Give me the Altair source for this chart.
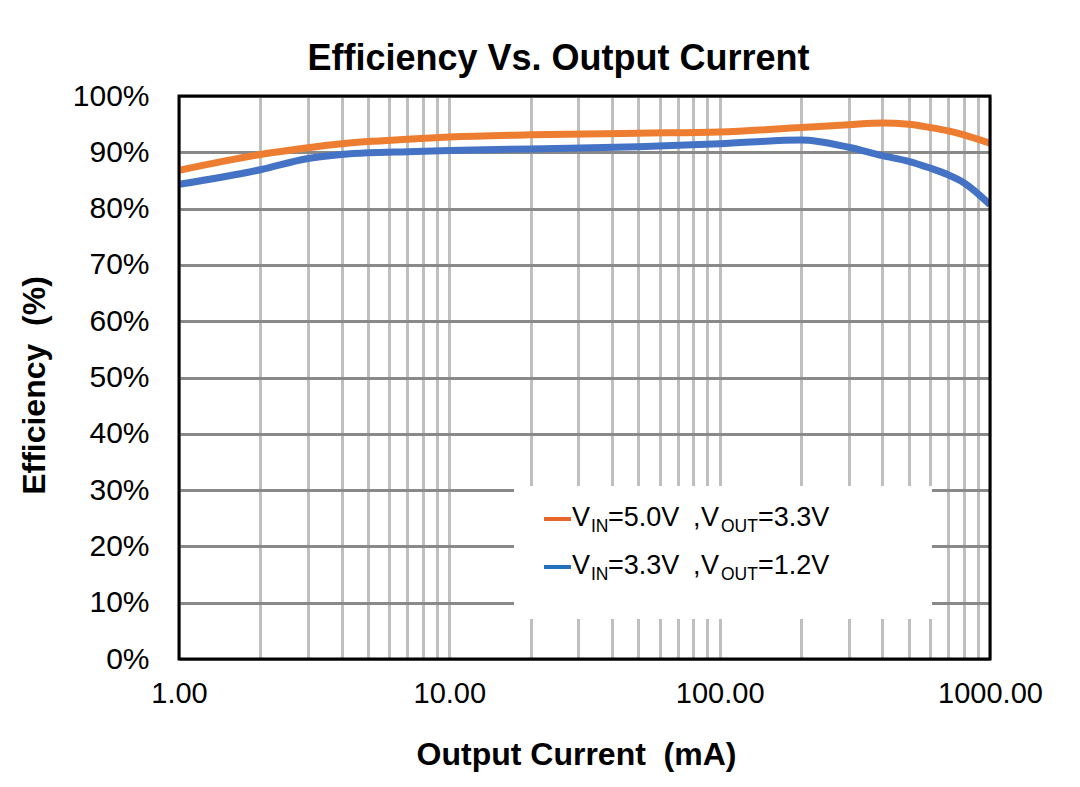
import altair as alt
import pandas as pd

current_ma = [1, 2, 3, 4, 5, 7, 10, 20, 50, 100, 200, 300, 400, 500, 600, 700, 800, 1000]
eff_5v_3v3 = [86.8, 89.6, 90.8, 91.5, 91.9, 92.3, 92.7, 93.1, 93.4, 93.6, 94.4, 94.9, 95.2, 95.0, 94.4, 93.8, 93.1, 91.6]
eff_3v3_1v2 = [84.3, 86.9, 88.9, 89.6, 89.9, 90.1, 90.3, 90.6, 91.0, 91.5, 92.2, 90.9, 89.4, 88.4, 87.2, 86.0, 84.6, 80.7]

series_names = ["VIN=5.0V ,VOUT=3.3V", "VIN=3.3V ,VOUT=1.2V"]
series_colors = ["#ED7D31", "#4472C4"]
legend_colors = ["#E8662A", "#2270BE"]

x_grid_values = [m * 10 ** d for d in range(3) for m in range(1, 10)] + [1000]
y_values = list(range(0, 101, 10))

FONT = "Liberation Sans"
NBSP = "\u00a0"
W, H = 811, 563

rows = []
for name, vals in zip(series_names, [eff_5v_3v3, eff_3v3_1v2]):
    for c, v in zip(current_ma, vals):
        rows.append({"current": c, "eff": v, "series": name})
df = pd.DataFrame(rows)

x_scale = alt.Scale(type="log", domain=[1, 1000], nice=False)
y_scale = alt.Scale(domain=[0, 100], nice=False)

x_axis = alt.Axis(
    values=x_grid_values,
    labelExpr="abs(log(datum.value)/LN10 - round(log(datum.value)/LN10)) < 0.000001 ? format(datum.value, '.2f') : ''",
    title="Output Current " + NBSP + "(mA)",
    titleX=397, titleY=105, titleBaseline="alphabetic", titleAnchor="middle",
    grid=True, gridColor="#BFBFBF", gridWidth=3,
    ticks=False, domain=False, labelPadding=20, labelOverlap=False, labelFlush=False,
    labelBound=False,
    labelFontSize=29, labelFont=FONT, labelColor="black",
    titleFontSize=32, titleFont=FONT, titleFontWeight="bold", titleColor="black",
)
y_axis = alt.Axis(
    values=y_values,
    labelExpr="datum.value + '%'",
    title="Efficiency " + NBSP + "(%)",
    titleX=-135, titleY=289, titleAngle=270, titleBaseline="alphabetic", titleAlign="center",
    grid=True, gridColor="#898989", gridWidth=3,
    ticks=False, domain=False, labelPadding=30, labelFlush=False,
    labelFontSize=30, labelFont=FONT, labelColor="black",
    titleFontSize=32, titleFont=FONT, titleFontWeight="bold", titleColor="black",
)

lines = alt.Chart(df).mark_line(strokeWidth=7, interpolate="monotone", clip=True).encode(
    x=alt.X("current:Q", scale=x_scale, axis=x_axis),
    y=alt.Y("eff:Q", scale=y_scale, axis=y_axis),
    color=alt.Color("series:N", scale=alt.Scale(domain=series_names, range=series_colors), legend=None),
    detail="series:N",
)

one = alt.Data(values=[{"k": 1}])

legend_box = alt.Chart(one).mark_rect(fill="white").encode(
    x=alt.value(335), x2=alt.value(753), y=alt.value(390), y2=alt.value(523)
)


def txt(s, x, y, size):
    return alt.Chart(one).mark_text(
        align="left", baseline="alphabetic", font=FONT, fontSize=size, color="black"
    ).encode(x=alt.value(x), y=alt.value(y), text=alt.value(s))


def dash(color, y):
    return alt.Chart(one).mark_rule(color=color, strokeWidth=4).encode(
        x=alt.value(365), x2=alt.value(392), y=alt.value(y)
    )


legend_layers = []
entries = [("=5.0V", "=3.3V", 430, 423), ("=3.3V", "=1.2V", 478, 471)]
for (vin, vout, base, dy), col in zip(entries, legend_colors):
    legend_layers += [
        dash(col, dy),
        txt("V", 393, base, 27),
        txt("IN", 412, base + 6, 17.5),
        txt(vin, 429, base, 27),
        txt(",", 514, base, 27),
        txt("V", 522, base, 27),
        txt("OUT", 542, base + 6, 17.5),
        txt(vout, 579, base, 27),
    ]

frame = alt.Chart(one).mark_rect(fillOpacity=0, stroke="black", strokeWidth=3).encode(
    x=alt.value(0), x2=alt.value(W), y=alt.value(0), y2=alt.value(H)
)

chart = alt.layer(lines, legend_box, *legend_layers, frame).properties(
    width=W,
    height=H,
    title=alt.TitleParams(
        "Efficiency Vs. Output Current", font=FONT, fontSize=36, fontWeight="bold",
        color="black", anchor="middle", dx=-26, offset=3,
    ),
    autosize=alt.AutoSizeParams(type="none"),
    padding={"left": 171, "top": 88, "right": 60, "bottom": 115},
).configure_view(stroke=None).configure(background="white")

chart.save("out.html", embed_options={"renderer": "svg", "actions": False})
